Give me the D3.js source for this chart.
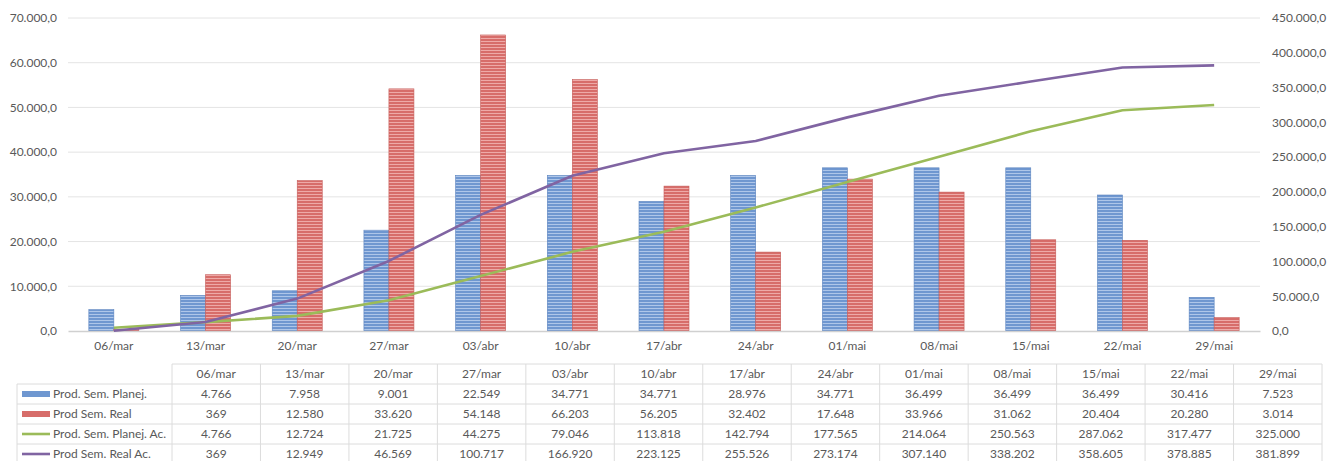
<!DOCTYPE html>
<html lang="pt">
<head>
    <meta charset="UTF-8">
    <title>Produção semanal</title>
    <script src="https://d3js.org/d3.v7.min.js"></script>
    <style>
        body { margin: 0; background: #fff; }
        text { font-family: Lato, "Open Sans", sans-serif; fill: #595959; }
    </style>
</head>
<body>
<div id="chart"></div>
<script>
// dados
var categories = ["06/mar","13/mar","20/mar","27/mar","03/abr","10/abr","17/abr","24/abr","01/mai","08/mai","15/mai","22/mai","29/mai"];
var planej   = [4766, 7958, 9001, 22549, 34771, 34771, 28976, 34771, 36499, 36499, 36499, 30416, 7523];
var real     = [369, 12580, 33620, 54148, 66203, 56205, 32402, 17648, 33966, 31062, 20404, 20280, 3014];
var planejAc = [4766, 12724, 21725, 44275, 79046, 113818, 142794, 177565, 214064, 250563, 287062, 317477, 325000];
var realAc   = [369, 12949, 46569, 100717, 166920, 223125, 255526, 273174, 307140, 338202, 358605, 378885, 381899];
var leftTicks  = [0, 10000, 20000, 30000, 40000, 50000, 60000, 70000];
var rightTicks = [0, 50000, 100000, 150000, 200000, 250000, 300000, 350000, 400000, 450000];
var seriesNames = ["Prod. Sem. Planej.", "Prod Sem. Real", "Prod. Sem. Planej. Ac.", "Prod Sem. Real Ac."];

var width = 1327, height = 461;
var plot = {left: 68, right: 1260, top: 18, bottom: 331};

var locale = d3.formatLocale({decimal: ",", thousands: ".", grouping: [3], currency: ["R$", ""]});
var fmtAxis = locale.format(",.1f");
var fmtInt = locale.format(",d");

var svg = d3.select("#chart").append("svg")
    .attr("width", width)
    .attr("height", height);

// padrões listrados das barras
var defs = svg.append("defs");
function stripes(id, base, light) {
    var p = defs.append("pattern")
        .attr("id", id)
        .attr("patternUnits", "userSpaceOnUse")
        .attr("width", 6).attr("height", 3);
    p.append("rect").attr("width", 6).attr("height", 3).attr("fill", base);
    p.append("rect").attr("y", 2).attr("width", 6).attr("height", 1).attr("fill", light);
}
stripes("blueStripe", "#6f97d0", "#aec6e9");
stripes("redStripe", "#d76d6a", "#eeaaa8");

var x = d3.scaleBand().domain(categories).range([plot.left, plot.right]);
var yL = d3.scaleLinear().domain([0, 70000]).range([plot.bottom, plot.top]);
var yR = d3.scaleLinear().domain([0, 450000]).range([plot.bottom, plot.top]);

// grade
svg.append("g").selectAll("line")
    .data(leftTicks.slice(1))
    .enter().append("line")
    .attr("x1", plot.left).attr("x2", plot.right)
    .attr("y1", d => yL(d)).attr("y2", d => yL(d))
    .attr("stroke", "#e4e4e4").attr("stroke-width", 1);

// eixo esquerdo
var axL = svg.append("g")
    .attr("transform", "translate(" + (plot.left - 11) + ",0)")
    .call(d3.axisLeft(yL).tickValues(leftTicks).tickFormat(fmtAxis).tickSize(0).tickPadding(0));
axL.select(".domain").remove();
axL.selectAll("text").style("font-size", "12px").attr("fill", "#595959");

// eixo direito
var axR = svg.append("g")
    .attr("transform", "translate(" + (plot.right + 12) + ",0)")
    .call(d3.axisRight(yR).tickValues(rightTicks).tickFormat(fmtAxis).tickSize(0).tickPadding(0));
axR.select(".domain").remove();
axR.selectAll("text").style("font-size", "12px").attr("fill", "#595959");

// barras
var bw = 25;
var bars = svg.append("g");
bars.selectAll(".planej")
    .data(planej)
    .enter().append("rect")
    .attr("x", (d, i) => x(categories[i]) + x.bandwidth() / 2 - bw)
    .attr("y", d => yL(d))
    .attr("width", bw)
    .attr("height", d => yL(0) - yL(d))
    .attr("fill", "url(#blueStripe)")
    .attr("stroke", "#5b84bf").attr("stroke-width", 0.6);
bars.selectAll(".real")
    .data(real)
    .enter().append("rect")
    .attr("x", (d, i) => x(categories[i]) + x.bandwidth() / 2)
    .attr("y", d => yL(d))
    .attr("width", bw)
    .attr("height", d => yL(0) - yL(d))
    .attr("fill", "url(#redStripe)")
    .attr("stroke", "#c55a57").attr("stroke-width", 0.6);

// eixo de categorias
var axB = svg.append("g")
    .attr("transform", "translate(0," + plot.bottom + ")")
    .call(d3.axisBottom(x).tickSize(0).tickPadding(10));
axB.select(".domain").attr("stroke", "#d0d0d0").attr("stroke-width", 1.3);
axB.selectAll("text").style("font-size", "12px").attr("fill", "#595959");

// linhas acumuladas
var line = d3.line()
    .x((d, i) => x(categories[i]) + x.bandwidth() / 2)
    .y(d => yR(d));
svg.append("path").datum(planejAc)
    .attr("fill", "none").attr("stroke", "#9bbb59").attr("stroke-width", 2.6)
    .attr("stroke-linejoin", "round")
    .attr("d", line);
svg.append("path").datum(realAc)
    .attr("fill", "none").attr("stroke", "#8064a2").attr("stroke-width", 2.6)
    .attr("stroke-linejoin", "round")
    .attr("d", line);

// tabela de dados
var tbl = {left: 17, keyRight: 172, right: 1322, top: 364, row: 20};
var cx = d3.scaleBand().domain(categories).range([tbl.keyRight, tbl.right]);
var rows = [planej, real, planejAc, realAc];
var grid = "#dcdcdc";
var t = svg.append("g");

// linhas horizontais
t.append("line")
    .attr("x1", tbl.keyRight).attr("x2", tbl.right)
    .attr("y1", tbl.top).attr("y2", tbl.top)
    .attr("stroke", grid);
t.selectAll(".hl")
    .data(d3.range(1, 6))
    .enter().append("line")
    .attr("x1", tbl.left).attr("x2", tbl.right)
    .attr("y1", d => tbl.top + d * tbl.row).attr("y2", d => tbl.top + d * tbl.row)
    .attr("stroke", grid);
// linhas verticais
t.append("line")
    .attr("x1", tbl.left).attr("x2", tbl.left)
    .attr("y1", tbl.top + tbl.row).attr("y2", height)
    .attr("stroke", grid);
t.selectAll(".vl")
    .data(categories.concat(["end"]))
    .enter().append("line")
    .attr("x1", (d, i) => tbl.keyRight + i * cx.bandwidth())
    .attr("x2", (d, i) => tbl.keyRight + i * cx.bandwidth())
    .attr("y1", tbl.top).attr("y2", height)
    .attr("stroke", grid);

// cabeçalho
t.selectAll(".hd")
    .data(categories)
    .enter().append("text")
    .attr("x", d => cx(d) + cx.bandwidth() / 2)
    .attr("y", tbl.top + tbl.row / 2)
    .attr("dy", "0.35em")
    .attr("text-anchor", "middle")
    .style("font-size", "12px")
    .text(d => d);

// valores
rows.forEach(function(vals, r) {
    t.selectAll(".v" + r)
        .data(vals)
        .enter().append("text")
        .attr("x", (d, i) => cx(categories[i]) + cx.bandwidth() / 2)
        .attr("y", tbl.top + (r + 1) * tbl.row + tbl.row / 2)
        .attr("dy", "0.35em")
        .attr("text-anchor", "middle")
        .style("font-size", "12px")
        .text(d => fmtInt(d));
});

// legenda
var keyColors = ["#6f97d0", "#d76d6a", "#9bbb59", "#8064a2"];
seriesNames.forEach(function(name, r) {
    var cy = tbl.top + (r + 1) * tbl.row + tbl.row / 2;
    if (r < 2) {
        t.append("rect")
            .attr("x", 22).attr("y", cy - 3)
            .attr("width", 28).attr("height", 6)
            .attr("fill", keyColors[r]);
    } else {
        t.append("line")
            .attr("x1", 22).attr("x2", 50)
            .attr("y1", cy).attr("y2", cy)
            .attr("stroke", keyColors[r]).attr("stroke-width", 2.6);
    }
    t.append("text")
        .attr("x", 53).attr("y", cy)
        .attr("dy", "0.35em")
        .style("font-size", "12px")
        .text(name);
});
</script>
</body>
</html>
